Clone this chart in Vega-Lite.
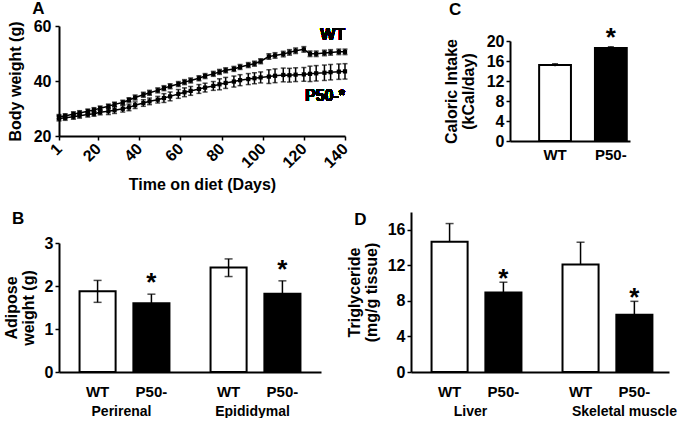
{
  "$schema": "https://vega.github.io/schema/vega-lite/v6.json",
  "padding": {"left": 3, "top": 0, "right": 2, "bottom": 0},
  "background": "white",
  "config": {
    "view": {"stroke": null},
    "font": "Liberation Sans",
    "axis": {"domainColor": "black", "domainWidth": 2, "tickColor": "black", "tickWidth": 1.5, "tickSize": 4, "labelFont": "Liberation Sans", "labelFontWeight": "bold", "labelFontSize": 16, "labelColor": "black", "labelOverlap": false, "titleFont": "Liberation Sans", "titleFontWeight": "bold", "titleFontSize": 16, "titleColor": "black", "grid": false, "titleLineHeight": 17},
    "title": {"font": "Liberation Sans", "fontSize": 17, "fontWeight": "bold", "color": "black", "anchor": "start", "frame": "bounds"},
    "text": {"font": "Liberation Sans", "fontWeight": "bold", "color": "black"}
  },
  "datasets": {
    "weight": [
      {"day":1,"g":"WT","v":27.0,"lo":26.2,"hi":27.8},{"day":4,"g":"WT","v":27.3,"lo":26.5,"hi":28.1},{"day":8,"g":"WT","v":28.0,"lo":27.2,"hi":28.8},{"day":11,"g":"WT","v":28.4,"lo":27.6,"hi":29.2},{"day":15,"g":"WT","v":29.0,"lo":28.2,"hi":29.8},{"day":18,"g":"WT","v":29.5,"lo":28.7,"hi":30.3},{"day":21,"g":"WT","v":30.1,"lo":29.3,"hi":30.9},{"day":25,"g":"WT","v":30.8,"lo":30.0,"hi":31.6},{"day":28,"g":"WT","v":31.5,"lo":30.7,"hi":32.3},{"day":32,"g":"WT","v":32.2,"lo":31.4,"hi":33.0},{"day":35,"g":"WT","v":33.1,"lo":32.3,"hi":33.9},{"day":38,"g":"WT","v":34.0,"lo":33.1,"hi":34.9},{"day":42,"g":"WT","v":35.0,"lo":34.1,"hi":35.9},{"day":45,"g":"WT","v":35.7,"lo":34.8,"hi":36.6},{"day":49,"g":"WT","v":36.6,"lo":35.7,"hi":37.5},{"day":52,"g":"WT","v":37.4,"lo":36.5,"hi":38.3},{"day":55,"g":"WT","v":38.1,"lo":37.2,"hi":39.0},{"day":59,"g":"WT","v":38.9,"lo":38.0,"hi":39.8},{"day":62,"g":"WT","v":39.6,"lo":38.7,"hi":40.5},{"day":65,"g":"WT","v":40.2,"lo":39.3,"hi":41.1},{"day":69,"g":"WT","v":41.0,"lo":40.1,"hi":41.9},{"day":72,"g":"WT","v":41.8,"lo":40.9,"hi":42.7},{"day":76,"g":"WT","v":42.6,"lo":41.7,"hi":43.5},{"day":79,"g":"WT","v":43.3,"lo":42.4,"hi":44.2},{"day":82,"g":"WT","v":43.9,"lo":43.0,"hi":44.8},{"day":86,"g":"WT","v":44.4,"lo":43.5,"hi":45.3},{"day":89,"g":"WT","v":45.1,"lo":44.2,"hi":46.0},{"day":93,"g":"WT","v":45.8,"lo":44.9,"hi":46.7},{"day":96,"g":"WT","v":46.3,"lo":45.4,"hi":47.2},{"day":99,"g":"WT","v":47.2,"lo":46.3,"hi":48.1},{"day":103,"g":"WT","v":48.9,"lo":47.9,"hi":49.9},{"day":106,"g":"WT","v":49.3,"lo":48.3,"hi":50.3},{"day":110,"g":"WT","v":49.8,"lo":48.8,"hi":50.8},{"day":113,"g":"WT","v":50.4,"lo":49.4,"hi":51.4},{"day":116,"g":"WT","v":51.0,"lo":50.0,"hi":52.0},{"day":120,"g":"WT","v":51.5,"lo":50.5,"hi":52.5},{"day":123,"g":"WT","v":49.9,"lo":48.9,"hi":50.9},{"day":126,"g":"WT","v":49.9,"lo":48.9,"hi":50.9},{"day":130,"g":"WT","v":50.2,"lo":49.2,"hi":51.2},{"day":133,"g":"WT","v":50.4,"lo":49.4,"hi":51.4},{"day":137,"g":"WT","v":50.6,"lo":49.6,"hi":51.6},{"day":140,"g":"WT","v":50.6,"lo":49.6,"hi":51.6},
      {"day":1,"g":"P50-","v":26.4,"lo":25.5,"hi":27.3},{"day":4,"g":"P50-","v":26.6,"lo":25.7,"hi":27.5},{"day":8,"g":"P50-","v":27.0,"lo":26.1,"hi":27.9},{"day":11,"g":"P50-","v":27.4,"lo":26.5,"hi":28.3},{"day":15,"g":"P50-","v":27.8,"lo":26.9,"hi":28.7},{"day":18,"g":"P50-","v":28.1,"lo":27.2,"hi":29.0},{"day":21,"g":"P50-","v":28.6,"lo":27.7,"hi":29.5},{"day":25,"g":"P50-","v":29.0,"lo":27.8,"hi":30.2},{"day":28,"g":"P50-","v":29.4,"lo":28.2,"hi":30.6},{"day":32,"g":"P50-","v":29.9,"lo":28.7,"hi":31.1},{"day":35,"g":"P50-","v":30.4,"lo":29.2,"hi":31.6},{"day":38,"g":"P50-","v":31.2,"lo":30.0,"hi":32.4},{"day":42,"g":"P50-","v":32.0,"lo":30.8,"hi":33.2},{"day":45,"g":"P50-","v":32.6,"lo":31.4,"hi":33.8},{"day":49,"g":"P50-","v":33.2,"lo":32.0,"hi":34.4},{"day":52,"g":"P50-","v":33.8,"lo":32.2,"hi":35.4},{"day":55,"g":"P50-","v":34.4,"lo":32.8,"hi":36.0},{"day":59,"g":"P50-","v":35.3,"lo":33.7,"hi":36.9},{"day":62,"g":"P50-","v":35.9,"lo":34.3,"hi":37.5},{"day":65,"g":"P50-","v":36.4,"lo":34.8,"hi":38.0},{"day":69,"g":"P50-","v":37.1,"lo":35.5,"hi":38.7},{"day":72,"g":"P50-","v":37.6,"lo":36.0,"hi":39.2},{"day":76,"g":"P50-","v":38.2,"lo":36.6,"hi":39.8},{"day":79,"g":"P50-","v":38.8,"lo":36.8,"hi":40.8},{"day":82,"g":"P50-","v":39.3,"lo":37.3,"hi":41.3},{"day":86,"g":"P50-","v":39.8,"lo":37.8,"hi":41.8},{"day":89,"g":"P50-","v":40.3,"lo":38.3,"hi":42.3},{"day":93,"g":"P50-","v":40.7,"lo":38.7,"hi":42.7},{"day":96,"g":"P50-","v":41.0,"lo":39.0,"hi":43.0},{"day":99,"g":"P50-","v":41.3,"lo":39.3,"hi":43.3},{"day":103,"g":"P50-","v":41.6,"lo":39.1,"hi":44.1},{"day":106,"g":"P50-","v":41.9,"lo":39.4,"hi":44.4},{"day":110,"g":"P50-","v":42.2,"lo":39.7,"hi":44.7},{"day":113,"g":"P50-","v":42.1,"lo":39.6,"hi":44.6},{"day":116,"g":"P50-","v":42.3,"lo":39.8,"hi":44.8},{"day":120,"g":"P50-","v":42.4,"lo":39.9,"hi":44.9},{"day":123,"g":"P50-","v":42.6,"lo":39.8,"hi":45.4},{"day":126,"g":"P50-","v":42.8,"lo":40.0,"hi":45.6},{"day":130,"g":"P50-","v":43.0,"lo":40.2,"hi":45.8},{"day":133,"g":"P50-","v":43.2,"lo":40.4,"hi":46.0},{"day":137,"g":"P50-","v":43.4,"lo":40.6,"hi":46.2},{"day":140,"g":"P50-","v":43.5,"lo":40.7,"hi":46.3}
    ],
    "caloric": [
      {"g":"WT","v":15.2,"lo":14.95,"hi":15.45,"sig":""},
      {"g":"P50-","v":18.6,"lo":18.35,"hi":18.85,"sig":"*"}
    ],
    "adipose": [
      {"t":"Perirenal","g":"WT","v":1.88,"lo":1.62,"hi":2.13,"sig":""},
      {"t":"Perirenal","g":"P50-","v":1.60,"lo":1.40,"hi":1.81,"sig":"*"},
      {"t":"Epididymal","g":"WT","v":2.43,"lo":2.22,"hi":2.63,"sig":""},
      {"t":"Epididymal","g":"P50-","v":1.82,"lo":1.52,"hi":2.12,"sig":"*"}
    ],
    "trig": [
      {"t":"Liver","g":"WT","v":14.65,"hi":16.7,"sig":""},
      {"t":"Liver","g":"P50-","v":8.95,"hi":10.1,"sig":"*"},
      {"t":"Skeletal muscle","g":"WT","v":12.1,"hi":14.6,"sig":""},
      {"t":"Skeletal muscle","g":"P50-","v":6.45,"hi":7.95,"sig":"*"}
    ]
  },
  "spacing": 17,
  "vconcat": [
    {
      "spacing": 92,
      "hconcat": [
        {
          "title": {"text": "A", "offset": 0, "dx": 25},
          "width": 286,
          "height": 110,
          "data": {"name": "weight"},
          "layer": [
            {
              "mark": {"type": "line", "color": "black", "strokeWidth": 1.5, "point": {"filled": true, "shape": "square", "size": 18, "color": "black"}},
              "encoding": {
                "x": {"field": "day", "type": "quantitative", "scale": {"domain": [1, 140], "nice": false}, "axis": {"values": [1, 20, 40, 60, 80, 100, 120, 140], "tickCount": 20, "format": "d", "labelAngle": -45, "labelAlign": "right", "labelBaseline": "middle", "labelPadding": 6, "title": "Time on diet (Days)", "titlePadding": 6}},
                "y": {"field": "v", "type": "quantitative", "scale": {"domain": [20, 60], "nice": false}, "axis": {"values": [20, 40, 60], "tickCount": 20, "format": "d", "title": "Body weight (g)", "titlePadding": 10, "labelPadding": 4}},
                "detail": {"field": "g"}
              }
            },
            {
              "mark": {"type": "errorbar", "color": "black", "thickness": 1.5, "ticks": {"size": 5, "thickness": 1.5, "color": "black"}},
              "encoding": {
                "x": {"field": "day", "type": "quantitative"},
                "y": {"field": "lo", "type": "quantitative", "title": "Body weight (g)"},
                "y2": {"field": "hi"}
              }
            },
            {
              "mark": {"type": "text", "align": "right", "baseline": "middle", "fontSize": 16},
              "encoding": {"x": {"datum": 140}, "y": {"datum": 56.7}, "text": {"value": "WT"}}
            },
            {
              "mark": {"type": "text", "align": "right", "baseline": "middle", "fontSize": 16},
              "encoding": {"x": {"datum": 140}, "y": {"datum": 34.6}, "text": {"value": "P50-*"}}
            }
          ]
        },
        {
          "spacing": -3,
          "vconcat": [
            {
              "title": {"text": "C", "offset": 7, "dx": -61},
              "width": 1,
              "height": 1,
              "data": {"values": []},
              "mark": {"type": "point", "opacity": 0},
              "encoding": {}
            },
            {
              "width": 120,
              "height": 100,
              "data": {"name": "caloric"},
              "encoding": {
                "x": {"field": "g", "type": "nominal", "sort": ["WT", "P50-"], "scale": {"paddingInner": 0.43, "paddingOuter": 0.29, "align": 0.9}, "axis": {"title": null, "labelAngle": 0, "ticks": false, "labelPadding": 6, "labelFontSize": 15}}
              },
              "layer": [
                {
                  "mark": {"type": "bar", "stroke": "black", "strokeWidth": 2},
                  "encoding": {
                    "y": {"field": "v", "type": "quantitative", "scale": {"domain": [0, 20], "nice": false}, "axis": {"values": [0, 4, 8, 12, 16, 20], "tickCount": 20, "format": "d", "title": ["Caloric Intake", "(kCal/day)"], "titlePadding": 10}},
                    "fill": {"field": "g", "type": "nominal", "scale": {"domain": ["WT", "P50-"], "range": ["white", "black"]}, "legend": null}
                  }
                },
                {
                  "mark": {"type": "rule", "color": "black", "strokeWidth": 1.5},
                  "encoding": {"y": {"field": "lo", "type": "quantitative"}, "y2": {"field": "hi"}}
                },
                {
                  "mark": {"type": "tick", "color": "black", "thickness": 1.5, "size": 6},
                  "encoding": {"y": {"field": "hi", "type": "quantitative"}}
                },
                {
                  "transform": [{"filter": "datum.sig == '*'"}],
                  "mark": {"type": "text", "fontSize": 26, "baseline": "alphabetic", "dy": -1},
                  "encoding": {"y": {"field": "hi", "type": "quantitative"}, "text": {"field": "sig"}}
                }
              ]
            }
          ]
        }
      ]
    },
    {
      "spacing": 25,
      "hconcat": [
        {
          "spacing": -3,
          "vconcat": [
            {
              "width": 1,
              "height": 1,
              "data": {"values": []},
              "mark": {"type": "point", "opacity": 0},
              "encoding": {}
            },
            {
              "title": {"text": "B", "offset": 7, "dx": 9},
              "width": 262,
              "height": 129,
              "data": {"name": "adipose"},
              "encoding": {
                "x": {"field": "t", "type": "nominal", "sort": ["Perirenal", "Epididymal"], "scale": {"paddingInner": 0.1, "paddingOuter": 0.05}, "axis": {"title": null, "labelAngle": 0, "ticks": false, "labelPadding": 32, "labelBaseline": "top", "labelFontSize": 14, "labelOffset": -3}},
                "xOffset": {"field": "g", "type": "nominal", "sort": ["WT", "P50-"], "scale": {"paddingInner": 0.33, "paddingOuter": 0.26}}
              },
              "layer": [
                {
                  "mark": {"type": "bar", "stroke": "black", "strokeWidth": 2},
                  "encoding": {
                    "y": {"field": "v", "type": "quantitative", "scale": {"domain": [0, 3], "nice": false}, "axis": {"values": [0, 1, 2, 3], "tickCount": 20, "format": "d", "title": ["Adipose", "weight (g)"], "titlePadding": 8}},
                    "fill": {"field": "g", "type": "nominal", "scale": {"domain": ["WT", "P50-"], "range": ["white", "black"]}, "legend": null}
                  }
                },
                {
                  "mark": {"type": "rule", "color": "black", "strokeWidth": 1.5},
                  "encoding": {"y": {"field": "lo", "type": "quantitative"}, "y2": {"field": "hi"}}
                },
                {
                  "mark": {"type": "tick", "color": "black", "thickness": 1.5, "size": 8},
                  "encoding": {"y": {"field": "hi", "type": "quantitative"}}
                },
                {
                  "mark": {"type": "tick", "color": "black", "thickness": 1.5, "size": 8},
                  "encoding": {"y": {"field": "lo", "type": "quantitative"}}
                },
                {
                  "transform": [{"filter": "datum.sig == '*'"}],
                  "mark": {"type": "text", "fontSize": 26, "baseline": "alphabetic", "dy": -3},
                  "encoding": {"y": {"field": "hi", "type": "quantitative"}, "text": {"field": "sig"}}
                },
                {
                  "mark": {"type": "text", "fontSize": 15, "baseline": "middle", "dy": 20},
                  "encoding": {"y": {"datum": 0}, "text": {"field": "g"}}
                }
              ]
            }
          ]
        },
        {
          "title": {"text": "D", "offset": 0, "dx": 8, "dy": 17},
          "width": 258,
          "height": 160,
          "data": {"name": "trig"},
          "encoding": {
            "x": {"field": "t", "type": "nominal", "sort": ["Liver", "Skeletal muscle"], "scale": {"paddingInner": 0.13, "paddingOuter": 0.05}, "axis": {"title": null, "labelAngle": 0, "ticks": false, "labelPadding": 32, "labelBaseline": "top", "labelFontSize": 14, "labelOffset": {"condition": {"test": "datum.value == 'Skeletal muscle'", "value": 19}, "value": -4}}},
            "xOffset": {"field": "g", "type": "nominal", "sort": ["WT", "P50-"], "scale": {"paddingInner": 0.37, "paddingOuter": 0.24}}
          },
          "layer": [
            {
              "mark": {"type": "bar", "stroke": "black", "strokeWidth": 2},
              "encoding": {
                "y": {"field": "v", "type": "quantitative", "scale": {"domain": [0, 18], "nice": false}, "axis": {"values": [0, 4, 8, 12, 16], "tickCount": 20, "format": "d", "title": ["Triglyceride", "(mg/g tissue)"], "titlePadding": 8}},
                "fill": {"field": "g", "type": "nominal", "scale": {"domain": ["WT", "P50-"], "range": ["white", "black"]}, "legend": null}
              }
            },
            {
              "mark": {"type": "rule", "color": "black", "strokeWidth": 1.5},
              "encoding": {"y": {"field": "v", "type": "quantitative"}, "y2": {"field": "hi"}}
            },
            {
              "mark": {"type": "tick", "color": "black", "thickness": 1.5, "size": 8},
              "encoding": {"y": {"field": "hi", "type": "quantitative"}}
            },
            {
              "transform": [{"filter": "datum.sig == '*'"}],
              "mark": {"type": "text", "fontSize": 26, "baseline": "alphabetic", "dy": 5},
              "encoding": {"y": {"field": "hi", "type": "quantitative"}, "text": {"field": "sig"}}
            },
            {
              "mark": {"type": "text", "fontSize": 15, "baseline": "middle", "dy": 20},
              "encoding": {"y": {"datum": 0}, "text": {"field": "g"}}
            }
          ]
        }
      ]
    }
  ]
}
